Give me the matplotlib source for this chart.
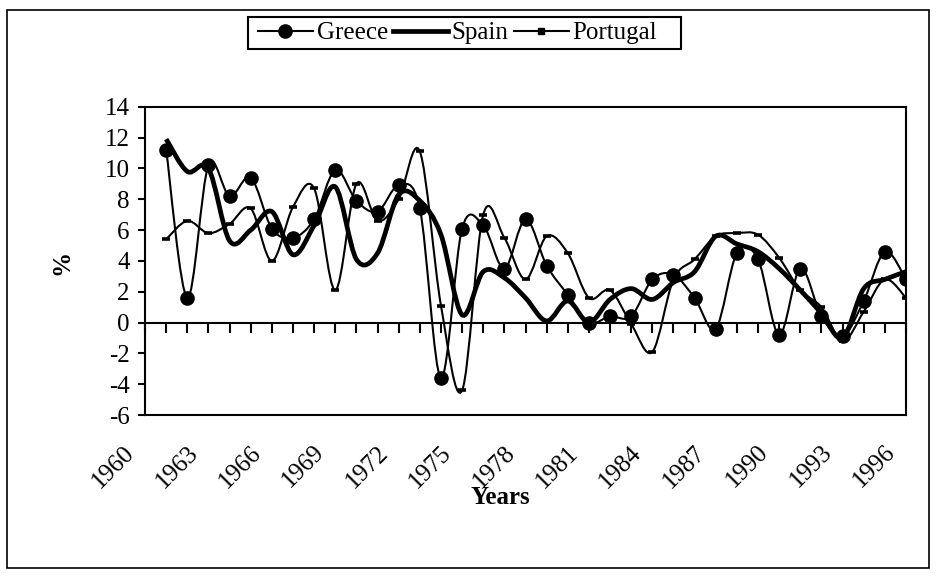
import numpy as np
import matplotlib.pyplot as plt
from matplotlib.path import Path
from matplotlib.patches import PathPatch, Rectangle
from matplotlib.lines import Line2D
from matplotlib.transforms import ScaledTranslation

plt.rcParams['font.family'] = ['Liberation Serif', 'DejaVu Serif']
plt.rcParams['font.size'] = 18
plt.rcParams['axes.unicode_minus'] = False

# data (annual %)
years = list(range(1961, 1997))
greece = [11.2, 1.6, 10.2, 8.2, 9.4, 6.1, 5.5, 6.7, 9.9, 7.9, 7.2, 8.9, 7.4, -3.6,
          6.1, 6.3, 3.5, 6.7, 3.7, 1.8, 0.0, 0.4, 0.4, 2.8, 3.1, 1.6, -0.4, 4.5,
          4.1, -0.8, 3.5, 0.4, -0.9, 1.4, 4.6, 2.8]
spain = [11.9, 9.8, 10.0, 5.3, 6.0, 7.2, 4.4, 6.3, 8.8, 4.1, 4.5, 8.3, 7.9, 5.7,
         0.5, 3.3, 2.9, 1.6, 0.1, 1.4, 0.0, 1.5, 2.2, 1.5, 2.6, 3.3, 5.6, 5.1,
         4.6, 3.5, 2.1, 0.6, -1.0, 2.2, 2.8, 3.3]
portugal = [5.4, 6.6, 5.8, 6.4, 7.4, 4.0, 7.5, 8.7, 2.1, 9.0, 6.6, 8.0, 11.1, 1.1,
            -4.4, 7.0, 5.5, 2.8, 5.6, 4.5, 1.6, 2.1, -0.1, -1.9, 2.8, 4.1, 5.6, 5.8,
            5.7, 4.2, 2.1, 1.0, -1.2, 0.7, 2.8, 1.6]
all_years = list(range(1960, 1997))
label_years = list(range(1960, 1997, 3))


def smooth_path(x, y):
    # excel-like smoothed line: bezier segments with catmull-rom control points
    x = np.asarray(x, float)
    y = np.asarray(y, float)
    px = np.concatenate([[x[0]], x, [x[-1]]])
    py = np.concatenate([[y[0]], y, [y[-1]]])
    verts = [(x[0], y[0])]
    codes = [Path.MOVETO]
    for i in range(len(x) - 1):
        p0 = np.array([px[i], py[i]])
        p1 = np.array([px[i + 1], py[i + 1]])
        p2 = np.array([px[i + 2], py[i + 2]])
        p3 = np.array([px[i + 3], py[i + 3]])
        c1 = p1 + (p2 - p0) / 6
        c2 = p2 - (p3 - p1) / 6
        verts += [tuple(c1), tuple(c2), tuple(p2)]
        codes += [Path.CURVE4] * 3
    return Path(verts, codes)


fig = plt.figure(figsize=(9.37, 5.82), dpi=100)
ax = fig.add_axes([0.1548, 0.2869, 0.8121, 0.5297])

ax.add_patch(PathPatch(smooth_path(years, greece), fill=False, lw=1.5, ec='black', zorder=3))
ax.plot(years, greece, 'o', color='black', ms=9.5, ls='none', zorder=4)
ax.add_patch(PathPatch(smooth_path(years, spain), fill=False, lw=3.4, ec='black', zorder=3))
ax.add_patch(PathPatch(smooth_path(years, portugal), fill=False, lw=1.5, ec='black', zorder=3))
ax.plot(years, portugal, '_', color='black', ms=6, mew=2.6, ls='none', zorder=4)

ax.set_xlim(1960, 1996)
ax.set_ylim(-6, 14)
ax.set_yticks(range(-6, 15, 2))
ax.set_xticks(label_years)
ax.set_xticklabels([str(y) for y in label_years], rotation=45, ha='right',
                   va='center', rotation_mode='anchor')
ax.tick_params(axis='x', length=0, pad=24.5)
ax.tick_params(axis='y', direction='out', length=5, width=1.5, pad=6)
for lab in ax.get_xticklabels():
    lab.set_transform(lab.get_transform() + ScaledTranslation(-0.14, 0, fig.dpi_scale_trans))
for sp in ax.spines.values():
    sp.set_linewidth(1.5)

# category axis crossing at zero
sec = ax.secondary_xaxis(0.3)
sec.set_xticks(all_years)
sec.tick_params(axis='x', direction='out', length=7, width=1.5, labelbottom=False)
sec.spines['bottom'].set_linewidth(1.5)

fig.text(500 / 937, 1 - 497 / 582, 'Years', ha='center', va='center', fontweight='bold')
fig.text(62 / 937, 1 - 262 / 582, '%', ha='center', va='center', rotation=90, fontweight='bold')

handles = [
    Line2D([], [], color='black', lw=1.5, marker='o', ms=9.5),
    Line2D([], [], color='black', lw=3.4),
    Line2D([], [], color='black', lw=1.5, marker='s', ms=4),
]
leg = fig.legend(handles, ['Greece', 'Spain', 'Portugal'], loc='center left',
                 bbox_to_anchor=(258 / 937, 1 - 33 / 582), bbox_transform=fig.transFigure,
                 ncol=3, frameon=False, borderpad=0, handlelength=2.2,
                 handletextpad=0.15, columnspacing=0.2, borderaxespad=0)
# legend box
fig.add_artist(Rectangle((248 / 937, 1 - 49 / 582), 433 / 937, 32 / 582,
                         transform=fig.transFigure, fill=False, lw=1.5, ec='black'))

# outer chart border
fig.add_artist(Rectangle((7 / 937, 1 - 568 / 582), 922 / 937, 558 / 582,
                         transform=fig.transFigure, fill=False, lw=1.2, ec='black'))

fig.savefig('out.png', dpi=100)
